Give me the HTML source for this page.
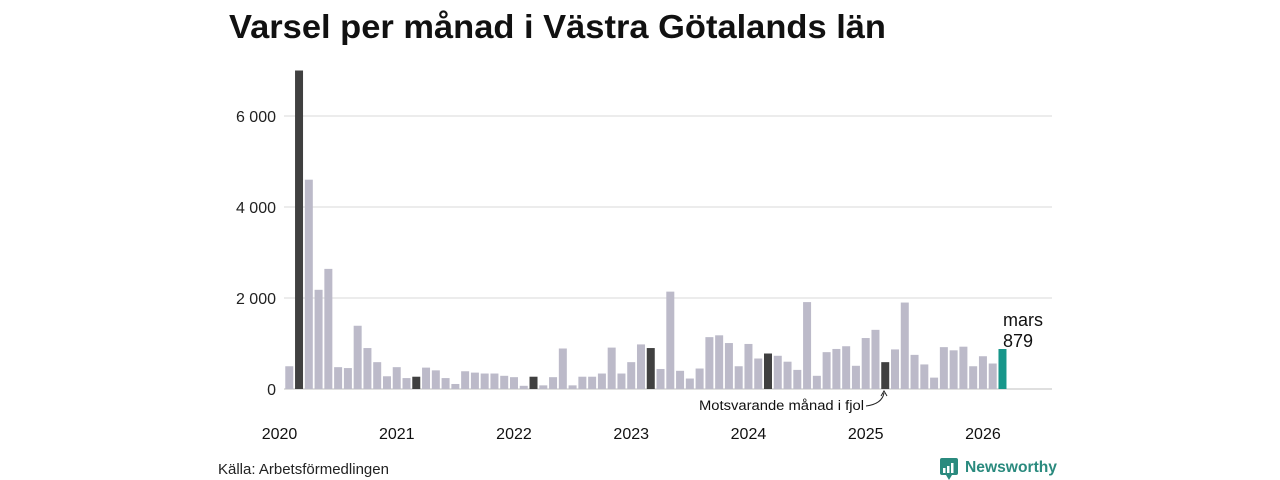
<!DOCTYPE html>
<html><head><meta charset="utf-8"><style>
html,body{margin:0;padding:0;background:#fff;}
svg{display:block;font-family:"Liberation Sans",sans-serif;}
</style></head><body>
<svg id="chart" width="1280" height="480" viewBox="0 0 1280 480">
<text x="229" y="38" font-size="33" font-weight="bold" fill="#111" textLength="657" lengthAdjust="spacingAndGlyphs">Varsel per månad i Västra Götalands län</text>
<g id="grid"></g>
<g id="bars"></g>
<g id="xaxis"></g>
<text x="1003" y="326" font-size="18" fill="#111">mars</text>
<text x="1003" y="347" font-size="18" fill="#111" id="lastval">879</text>
<text x="699" y="410" font-size="13.5" fill="#111" textLength="165" lengthAdjust="spacingAndGlyphs">Motsvarande månad i fjol</text>
<path d="M866 406 Q882 404 884 393" fill="none" stroke="#222" stroke-width="1"/>
<path d="M881 396 L884 391 L887 396" fill="none" stroke="#222" stroke-width="1"/>
<text x="218" y="474" font-size="15" fill="#222">Källa: Arbetsförmedlingen</text>
<g>
<rect x="940" y="458" width="18" height="17" rx="2" fill="#2a8a7e"/>
<path d="M946 475 L949 480 L952 475Z" fill="#2a8a7e"/>
<rect x="943" y="468" width="2.5" height="5" fill="#fff"/><rect x="947" y="466" width="2.5" height="7" fill="#fff"/><rect x="951" y="463" width="2.5" height="10" fill="#fff"/>
<text x="965" y="472" font-size="16" font-weight="bold" fill="#2a8a7e" textLength="92" lengthAdjust="spacingAndGlyphs">Newsworthy</text>
</g>
</svg>
<script>
const years=["2020","2021","2022","2023","2024","2025","2026"];
const yTicks=[0,2000,4000,6000];
const yTickLabels=["0","2 000","4 000","6 000"];
const values=[500,7000,4600,2180,2640,480,460,1390,900,590,280,
480,240,270,470,410,240,110,390,360,340,340,290,
260,70,270,80,260,890,80,270,270,340,910,340,
590,980,900,440,2140,400,230,450,1140,1180,1010,500,
990,670,780,730,600,420,1910,290,810,880,940,510,
1120,1300,590,870,1900,750,540,250,920,850,930,500,
720,560,879];
const startMonth=1; // Feb 2020 (0=Jan)
const NS="http://www.w3.org/2000/svg";
const x0=279.5, pitch=9.77, bw=8, base=389, k=91/2000;
const xPos=i=>x0+i*pitch; // i = months since Jan 2020
const yPos=v=>base-v*k;
const grid=document.getElementById('grid');
yTicks.forEach((t,j)=>{
 const l=document.createElementNS(NS,'line');
 
 
 l.setAttribute('x1',284);l.setAttribute('x2',1052);
 l.setAttribute('y1',yPos(t));l.setAttribute('y2',yPos(t));
 l.setAttribute('stroke',t===0?'#ccc':'#e0e0e0');l.setAttribute('stroke-width',1.2);
 grid.appendChild(l);
 const tx=document.createElementNS(NS,'text');
 
 
 tx.setAttribute('x',276);tx.setAttribute('y',yPos(t)+6);
 tx.setAttribute('text-anchor','end');tx.setAttribute('font-size',16);tx.setAttribute('fill','#222');
 tx.textContent=yTickLabels[j];grid.appendChild(tx);
});
const bars=document.getElementById('bars');
const n=values.length;
values.forEach((v,i)=>{
 const m=i+startMonth;
 const r=document.createElementNS(NS,'rect');
 
 
 r.setAttribute('x',xPos(m)-bw/2);r.setAttribute('width',bw);
 r.setAttribute('y',yPos(v));r.setAttribute('height',base-yPos(v));
 const lastM=(n-1+startMonth)%12;
 let c='#bcbac9';
 if(i===n-1)c='#17968a';else if(m%12===lastM)c='#404040';
 r.setAttribute('fill',c);bars.appendChild(r);
});
document.getElementById('lastval').textContent=values[n-1];
const xa=document.getElementById('xaxis');
years.forEach((y,j)=>{
 const t=document.createElementNS(NS,'text');
 
 
 t.setAttribute('x',xPos(j*12));t.setAttribute('y',439);
 t.setAttribute('text-anchor','middle');t.setAttribute('font-size',16);t.setAttribute('fill','#111');
 t.textContent=y;xa.appendChild(t);
});
</script>
</body></html>
